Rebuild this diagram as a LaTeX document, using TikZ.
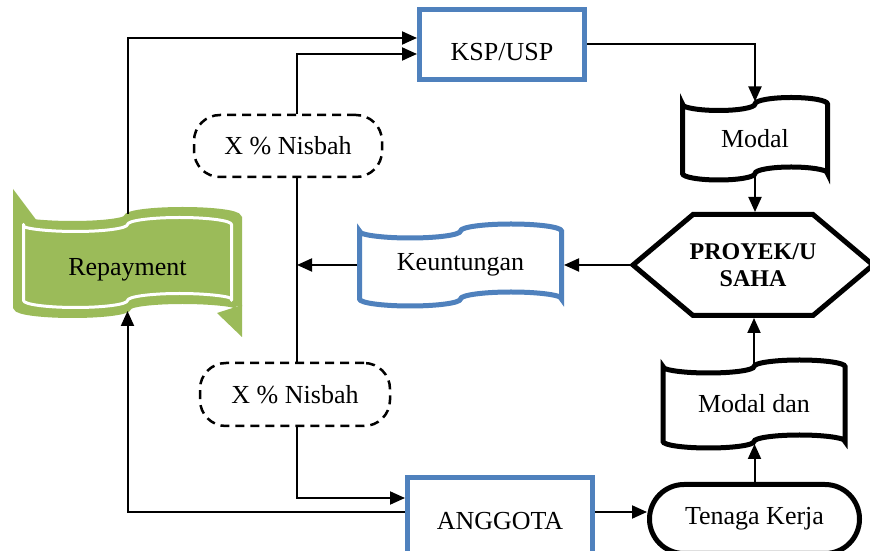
\documentclass[tikz,border=0pt]{standalone}
\usepackage{fontspec}
\setmainfont{Liberation Serif}
\usetikzlibrary{arrows.meta,calc}
\definecolor{ablue}{HTML}{4F81BD}
\definecolor{agreen}{HTML}{9BBB59}

% Punched-tape outline around a node: #1 node, #2 width, #3 height (between the
% wave mid-lines), #4 wave bulge, #5 draw options, #6 corner horn offset
% (a short straight start at the two sharp corners gives a clean miter horn)
\newcommand\tapeoutline[6]{%
  \pgfmathsetmacro\tpW{#2/2}\pgfmathsetmacro\tpH{#3/2}\pgfmathsetmacro\tpQ{#2/4}%
  \pgfmathsetmacro\tpB{#4}\pgfmathsetmacro\tpK{0.5523*#4}\pgfmathsetmacro\tpL{0.5523*#2/4}%
  \draw[#5, miter limit=20, shift={(#1.center)}]
    (-\tpW,\tpH) -- (-\tpW+0.4*#6,\tpH-0.4*\tpK)
    .. controls (-\tpW+#6,\tpH-\tpK) and (-\tpQ-\tpL,\tpH-\tpB) .. (-\tpQ,\tpH-\tpB)
    .. controls (-\tpQ+\tpL,\tpH-\tpB) and (0,\tpH-\tpK) .. (0,\tpH)
    .. controls (0,\tpH+\tpK) and (\tpQ-\tpL,\tpH+\tpB) .. (\tpQ,\tpH+\tpB)
    .. controls (\tpQ+\tpL,\tpH+\tpB) and (\tpW,\tpH+\tpK) .. (\tpW,\tpH)
    -- (\tpW,-\tpH) -- (\tpW-0.4*#6,-\tpH+0.4*\tpK)
    .. controls (\tpW-#6,-\tpH+\tpK) and (\tpQ+\tpL,-\tpH+\tpB) .. (\tpQ,-\tpH+\tpB)
    .. controls (\tpQ-\tpL,-\tpH+\tpB) and (0,-\tpH+\tpK) .. (0,-\tpH)
    .. controls (0,-\tpH-\tpK) and (-\tpQ+\tpL,-\tpH-\tpB) .. (-\tpQ,-\tpH-\tpB)
    .. controls (-\tpQ-\tpL,-\tpH-\tpB) and (-\tpW,-\tpH-\tpK) .. (-\tpW,-\tpH)
    -- cycle;}

\begin{document}
\begin{tikzpicture}[x=1pt,y=1pt,
  every node/.style={font=\fontsize{26}{30}\selectfont, inner sep=0pt},
  conn/.style={line width=2pt, draw=black},
  arr/.style={conn, -{Triangle[length=15pt,width=13pt]}},
  bluebox/.style={draw=ablue, line width=5pt},
  tapebox/.style={draw=none, outer sep=2.5pt},
  nisbah/.style={draw, line width=2.5pt, dash pattern=on 9pt off 6pt,
                 rounded corners=26pt},
  boldtext/.style={font=\bfseries\fontsize{24}{27}\selectfont, align=center}
]
\useasboundingbox (0,0) rectangle (870,551);
\fill[white] (0,0) rectangle (870,551);
\clip (0,0) rectangle (870,551);

% boxes
\node[bluebox, minimum width=165pt, minimum height=70pt,
      text height=32pt, text depth=0pt] (ksp) at (502,506.5) {KSP/USP};

% green banner: filled tape, two corner horns, white inner line
\node[tapebox, outer sep=4.5pt, minimum width=220pt, minimum height=88pt] (rep) at (127.5,288.5) {};
\tapeoutline{rep}{220}{88}{7}{fill=agreen, draw=agreen, line width=9pt}{0}
\fill[agreen, shift={(rep.center)}] (-114.5,73.5) -- (-114.5,34.5) -- (-90.5,41.5) -- cycle;
\fill[agreen, shift={(rep.center)}] (114.5,-74.5) -- (114.5,-42.5) -- (89.5,-50.5) -- cycle;
\tapeoutline{rep}{208}{76}{7}{draw=white, line width=3pt, line join=round}{0}
\node[text height=27pt, text depth=0pt] (reptext) at (rep.center) {Repayment};

\node[nisbah, minimum width=188pt, minimum height=62pt] (nis1) at (288,405) {X \% Nisbah};
\node[nisbah, minimum width=190pt, minimum height=63pt] (nis2) at (295,156.5) {X \% Nisbah};

\node[tapebox, minimum width=202pt, minimum height=68pt] (keu) at (460.5,286) {Keuntungan};
\tapeoutline{keu}{202}{68}{7}{draw=ablue, line width=5pt}{2.8}

\node[tapebox, minimum width=145pt, minimum height=69.5pt] (modal) at (755,412.25) {Modal};
\tapeoutline{modal}{145}{69.5}{6.5}{draw=black, line width=5pt}{1.75}

\node[tapebox, boldtext, minimum width=240pt, minimum height=101pt] (hex) at (753,286) {PROYEK/U\\SAHA};
\draw[line width=5pt, shift={(hex.center)}]
  (-120,0) -- (-60,50.5) -- (60,50.5) -- (120,0) -- (60,-50.5) -- (-60,-50.5) -- cycle;

\node[tapebox, minimum width=182pt, minimum height=75pt] (md) at (754,147) {Modal dan};
\tapeoutline{md}{182}{75}{6.5}{draw=black, line width=5pt}{2.6}

\node[draw, line width=5pt, rounded corners=34.5pt, minimum width=210pt,
      minimum height=69pt] (ten) at (754.5,32) {Tenaga Kerja};

\node[bluebox, minimum width=185pt, minimum height=87pt] (ang) at (500,30) {ANGGOTA};

\coordinate (spine) at (297,0);

% connectors
\draw[arr] (rep.north) |- ([yshift=6.5pt]ksp.west);
\draw[arr] (nis1.north -| spine) |- ([yshift=-9.5pt]ksp.west);
\draw[arr] (ksp.east) -| (modal.north);
\draw[arr] (modal.south) -- (modal.south |- hex.north);
\draw[arr] (hex.west) -- (hex.west -| keu.east);
\draw[arr] (keu.west) -- (keu.west -| spine);
\draw[conn] (nis1.south -| spine) -- (nis2.north -| spine);
\draw[arr] (nis2.south -| spine) |- ([yshift=23pt]ang.west);
\draw[arr] ([yshift=9pt]ang.west) -| (rep.south);
\draw[arr] ([yshift=9pt]ang.east) -- ([yshift=9pt]ang.east -| ten.west);
\draw[arr] (ten.north) -- (ten.north |- md.south);
\draw[arr] (md.north) -- (md.north |- hex.south);
\end{tikzpicture}
\end{document}
